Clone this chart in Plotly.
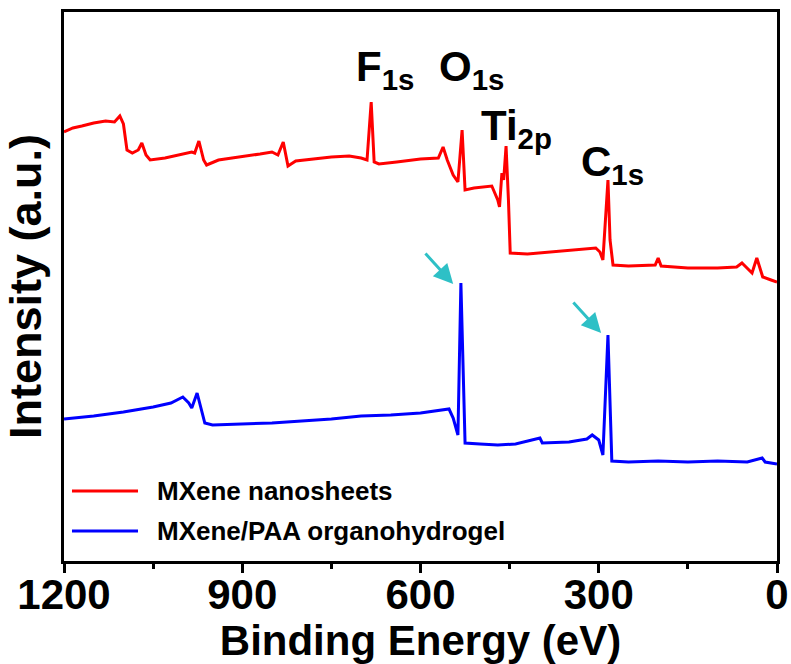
import plotly.graph_objects as go

# ---- data (binding energy in eV, intensity in a.u.) ----
red_energy = [1200, 1185, 1170, 1150, 1130, 1115, 1106, 1100, 1094, 1085, 1075, 1069, 1062, 1055,
              1030, 1000, 985, 980, 973, 965, 960, 940, 900, 870, 850, 840, 831, 823, 810, 780,
              750, 720, 700, 690, 683, 678, 670, 640, 600, 570, 562, 555, 545, 537, 530, 525,
              510, 480, 470, 467, 463, 460, 456, 452, 449, 420, 380, 340, 305, 298, 293, 284.5,
              281, 276, 250, 205, 200, 195, 150, 100, 68, 59, 50, 42, 34, 28, 24, 10, 0]
red_intensity = [429, 433, 435, 438, 440, 439, 445, 437, 411, 408, 411, 418, 406, 401,
                 403, 407, 409, 408, 420, 401, 396, 401, 404, 407, 409, 406, 419, 395, 400, 402,
                 404, 405, 403, 401, 459, 399, 397, 399, 402, 403, 414, 401, 386, 379, 431, 371,
                 373, 375, 361, 354, 388, 381, 415, 361, 308, 307, 309, 311, 313, 309, 301, 381,
                 321, 296, 295, 296, 303, 295, 293, 293, 294, 298, 293, 288, 303, 291, 284, 281, 279]

blue_energy = [1200, 1150, 1100, 1050, 1020, 1000, 990, 985, 976, 968, 963, 950, 900, 850, 800,
               750, 700, 650, 600, 560, 552, 545, 537, 532, 525, 500, 470, 440, 399, 395, 350,
               320, 311, 300, 293, 284.5, 280, 278, 250, 200, 150, 100, 50, 25, 20, 0]
blue_intensity = [142, 145, 149, 154, 158, 164, 158, 153, 168, 151, 138, 136, 137, 138, 140,
                  142, 145, 146, 148, 151, 152, 143, 126, 278, 118, 117, 116, 117, 123, 118, 119,
                  122, 126, 121, 106, 226, 141, 100, 99, 100, 99, 100, 99, 103, 99, 97]

series_names = ["MXene nanosheets", "MXene/PAA organohydrogel"]
series_colors = ["#FF0000", "#0000FF"]

x_tick_values = [1200, 900, 600, 300, 0]
x_tick_labels = ["1200", "900", "600", "300", "0"]

peak_labels = ["F<sub>1s</sub>", "O<sub>1s</sub>", "Ti<sub>2p</sub>", "C<sub>1s</sub>"]
peak_label_energy = [712, 572, 501, 333]
peak_label_intensity = [492, 492, 433, 397]

FONT = "Liberation Sans, Arial, sans-serif"

fig = go.Figure()
fig.add_trace(go.Scatter(x=red_energy, y=red_intensity, mode="lines",
                         line=dict(color=series_colors[0], width=3), name=series_names[0],
                         showlegend=False))
fig.add_trace(go.Scatter(x=blue_energy, y=blue_intensity, mode="lines",
                         line=dict(color=series_colors[1], width=3), name=series_names[1],
                         showlegend=False))

# peak labels
for txt, ex, iy in zip(peak_labels, peak_label_energy, peak_label_intensity):
    fig.add_annotation(x=ex, y=iy, xref="x", yref="y", text=txt, showarrow=False,
                       xanchor="left", yanchor="middle",
                       font=dict(family=FONT, size=42, color="black", weight="bold"))

# cyan arrows pointing at the O1s and C1s peaks of the organohydrogel
arrows = [((545, 277), (594, 309)), ((296, 228), (345, 260))]
for (tx, ty), (sx, sy) in arrows:
    fig.add_annotation(x=tx, y=ty, ax=sx, ay=sy, xref="x", yref="y", axref="x", ayref="y",
                       text="", showarrow=True, arrowhead=2, arrowsize=1.3, arrowwidth=3,
                       arrowcolor="#2EC0C6", standoff=0)

# manual legend
legend_y = [0.1275, 0.0546]
for name, col, ly in zip(series_names, series_colors, legend_y):
    fig.add_shape(type="line", xref="paper", yref="paper", x0=0.0112, x1=0.1038, y0=ly, y1=ly,
                  line=dict(color=col, width=3))
    fig.add_annotation(x=0.128, y=ly, xref="paper", yref="paper", text=name, showarrow=False,
                       xanchor="left", yanchor="middle",
                       font=dict(family=FONT, size=26, color="black", weight="bold"))

fig.update_layout(
    width=791, height=664,
    margin=dict(l=64, r=14, t=12, b=103, autoexpand=False),
    paper_bgcolor="white", plot_bgcolor="white",
    font=dict(family=FONT, color="black"),
    xaxis=dict(
        range=[1200, 0], tickvals=x_tick_values, ticktext=x_tick_labels,
        ticks="outside", ticklen=9, tickwidth=3, tickcolor="black",
        ticklabelstandoff=-14,
        minor=dict(tickvals=[1050, 750, 450, 150], ticks="outside", ticklen=5, tickwidth=3,
                   tickcolor="black"),
        showline=True, linewidth=3, linecolor="black", mirror=True,
        showgrid=False, zeroline=False, automargin=False,
        tickfont=dict(family=FONT, size=42, color="black", weight="bold"),
        title=dict(text="Binding Energy (eV)", standoff=4,
                   font=dict(family=FONT, size=42, color="black", weight="bold")),
    ),
    yaxis=dict(
        range=[0, 549], showticklabels=False, ticks="",
        showline=True, linewidth=3, linecolor="black", mirror=True,
        showgrid=False, zeroline=False, automargin=False,
        title=dict(text="Intensity (a.u.)", standoff=6,
                   font=dict(family=FONT, size=45, color="black", weight="bold")),
    ),
)

fig.write_html("out.html")
